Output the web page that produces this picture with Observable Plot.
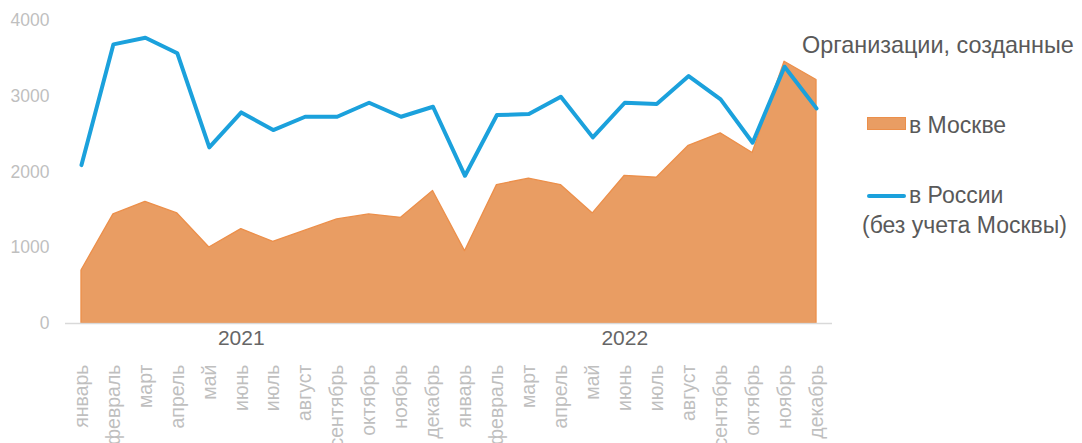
<!DOCTYPE html>
<html>
<head>
<meta charset="utf-8">
<script src="https://cdn.jsdelivr.net/npm/d3@7"></script>
<script src="https://cdn.jsdelivr.net/npm/@observablehq/plot@0.6"></script>
<style>
  html, body { margin: 0; padding: 0; background: #fff; }
  #wrap { position: relative; width: 1082px; height: 443px; overflow: hidden; font-family: "Liberation Sans", Arial, sans-serif; }
  .lg { position: absolute; color: #595959; font-size: 23px; white-space: nowrap; line-height: 1; }
</style>
</head>
<body>
<div id="wrap"></div>
<script>
const years = ["2021", "2022"];
const monthNames = ["январь","февраль","март","апрель","май","июнь","июль","август","сентябрь","октябрь","ноябрь","декабрь"];
const moscow = [700, 1440, 1606, 1453, 1004, 1246, 1078, 1225, 1374, 1440, 1395, 1750,
                955, 1827, 1912, 1827, 1453, 1950, 1924, 2346, 2510, 2250, 3456, 3214];
const russia = [2091, 3685, 3773, 3567, 2325, 2787, 2553, 2729, 2729, 2914, 2729, 2861,
                1950, 2752, 2765, 2993, 2457, 2914, 2897, 3267, 2959, 2386, 3390, 2840];
const yTicks = [0, 1000, 2000, 3000, 4000];
const legendTitle = "Организации, созданные";
const seriesNames = ["в Москве", "в России", "(без учета Москвы)"];

const data = [];
years.forEach((yr, yi) => monthNames.forEach((m, mi) => {
  const i = yi * 12 + mi;
  data.push({i, month: m, year: yr, moscow: moscow[i], russia: russia[i]});
}));
const yearLabels = years.map((yr, yi) => ({year: yr, i: yi * 12 + 5}));

const orangeFill = "#E99D63", orangeStroke = "#EC8F4A", blue = "#1BA1DC";

const chart = Plot.plot({
  width: 1082,
  height: 443,
  marginLeft: 65,
  marginRight: 250,
  marginTop: 20,
  marginBottom: 120,
  style: {fontFamily: "'Liberation Sans', Arial, sans-serif", background: "#fff"},
  x: {type: "linear", domain: [-0.5, 23.5], axis: null},
  y: {domain: [0, 4000], axis: null},
  marks: [
    Plot.areaY(data, {x: "i", y: "moscow", fill: orangeFill, stroke: orangeStroke, strokeWidth: 1.3}),
    Plot.ruleY([0], {stroke: "#D9D9D9", strokeWidth: 1.5}),
    Plot.lineY(data, {x: "i", y: "russia", stroke: blue, strokeWidth: 4, strokeLinejoin: "round"}),
    Plot.axisY(yTicks, {tickSize: 0, tickPadding: 16, fontSize: 17.5, fill: "#BFBFBF", label: null, tickFormat: d => String(d)}),
    Plot.axisX(d3.range(24), {
      tickSize: 0, tickPadding: 41, tickRotate: -90, fontSize: 19.5,
      fill: "#BFBFBF", label: null,
      tickFormat: i => monthNames[i % 12]
    }),
    Plot.text(yearLabels, {x: "i", text: "year", frameAnchor: "bottom", dy: 21, fontSize: 21, fill: "#666666"})
  ]
});
const wrap = document.getElementById("wrap");
wrap.appendChild(chart);

function addLegend(text, left, top) {
  const d = document.createElement("div");
  d.className = "lg";
  d.style.left = left + "px";
  d.style.top = top + "px";
  d.textContent = text;
  wrap.appendChild(d);
  return d;
}
const t = addLegend(legendTitle, 802, 34);
t.style.fontSize = "23.4px";
const sw = document.createElement("div");
Object.assign(sw.style, {position: "absolute", left: "867px", top: "117px", width: "37px", height: "11px",
  background: orangeFill, border: "1px solid " + orangeStroke});
wrap.appendChild(sw);
addLegend(seriesNames[0], 909, 114);
const ln = document.createElement("div");
Object.assign(ln.style, {position: "absolute", left: "867px", top: "194px", width: "39px", height: "4px",
  background: blue, borderRadius: "2px"});
wrap.appendChild(ln);
addLegend(seriesNames[1], 909, 184);
addLegend(seriesNames[2], 862, 214);
</script>
</body>
</html>
